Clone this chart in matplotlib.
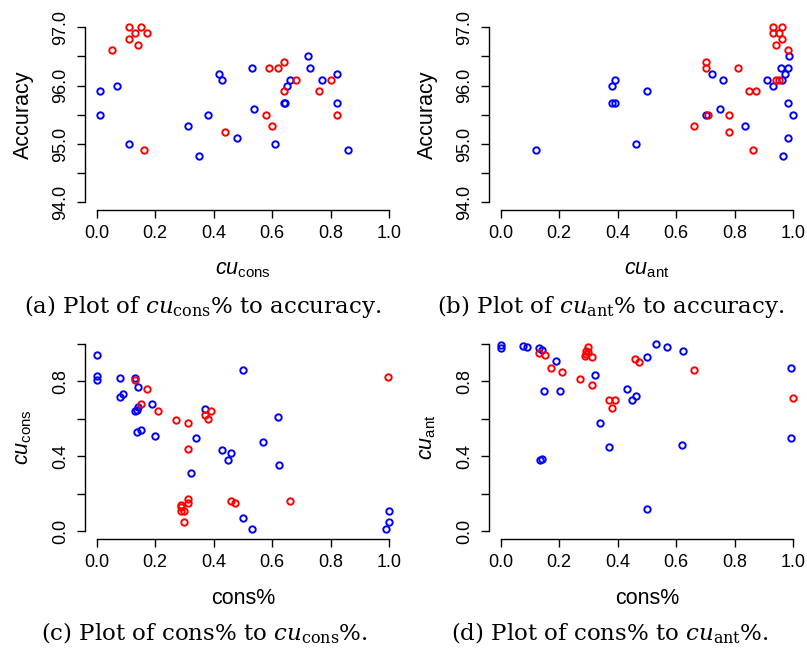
import numpy as np
import matplotlib
matplotlib.use("Agg")
import matplotlib.pyplot as plt

# (a) cu_cons vs accuracy
a_blue_x = [0.01, 0.01, 0.071, 0.11, 0.312, 0.351, 0.38, 0.419, 0.429, 0.479, 0.53, 0.538,
            0.61, 0.64, 0.642, 0.65, 0.659, 0.721, 0.73, 0.77, 0.82, 0.82, 0.86]
a_blue_y = [95.9, 95.5, 96.0, 95.0, 95.3, 94.8, 95.5, 96.2, 96.1, 95.1, 96.3, 95.6,
            95.0, 95.7, 95.7, 96.0, 96.1, 96.5, 96.3, 96.1, 96.2, 95.7, 94.9]
a_red_x = [0.11, 0.15, 0.13, 0.171, 0.11, 0.14, 0.051, 0.162, 0.44, 0.58, 0.60, 0.59,
           0.62, 0.64, 0.64, 0.68, 0.76, 0.80, 0.82]
a_red_y = [97.0, 97.0, 96.9, 96.9, 96.8, 96.7, 96.6, 94.9, 95.2, 95.5, 95.3, 96.3,
           96.3, 96.4, 95.9, 96.1, 95.9, 96.1, 95.5]

# (b) cu_ant vs accuracy
b_blue_x = [0.119, 0.38, 0.391, 0.38, 0.391, 0.501, 0.461, 0.70, 0.721, 0.761, 0.75, 0.836,
            0.91, 0.932, 0.962, 0.958, 0.981, 0.971, 0.986, 0.981, 1.0, 0.981, 0.966]
b_blue_y = [94.9, 96.0, 96.1, 95.7, 95.7, 95.9, 95.0, 95.5, 96.2, 96.1, 95.6, 95.3,
            96.1, 96.0, 96.1, 96.3, 96.3, 96.2, 96.5, 95.7, 95.5, 95.1, 94.8]
b_red_x = [0.932, 0.962, 0.932, 0.952, 0.962, 0.941, 0.981, 0.70, 0.70, 0.811, 0.941, 0.952,
           0.85, 0.871, 0.71, 0.781, 0.66, 0.781, 0.861]
b_red_y = [97.0, 97.0, 96.9, 96.9, 96.8, 96.7, 96.6, 96.4, 96.3, 96.3, 96.1, 96.1,
           95.9, 95.9, 95.5, 95.5, 95.3, 95.2, 94.9]

# (c) cons% vs cu_cons
c_blue_x = [0.0, 0.0, 0.0, 0.081, 0.080, 0.091, 0.13, 0.14, 0.13, 0.137, 0.14, 0.137, 0.151,
            0.19, 0.199, 0.341, 0.369, 0.321, 0.429, 0.46, 0.45, 0.501, 0.50, 0.531, 0.569,
            0.621, 0.623, 0.999, 1.0, 0.99]
c_blue_y = [0.94, 0.831, 0.809, 0.818, 0.719, 0.732, 0.818, 0.768, 0.64, 0.647, 0.665, 0.53, 0.539,
            0.681, 0.509, 0.50, 0.653, 0.309, 0.431, 0.419, 0.378, 0.861, 0.07, 0.009, 0.478,
            0.611, 0.352, 0.108, 0.05, 0.009]
c_red_x = [0.13, 0.171, 0.151, 0.211, 0.27, 0.311, 0.369, 0.38, 0.39, 0.311, 0.311, 0.311,
           0.288, 0.288, 0.288, 0.30, 0.30, 0.46, 0.471, 0.661, 0.997]
c_red_y = [0.805, 0.76, 0.681, 0.64, 0.591, 0.579, 0.622, 0.60, 0.64, 0.44, 0.171, 0.151,
           0.14, 0.126, 0.108, 0.108, 0.05, 0.16, 0.151, 0.16, 0.822]

# (d) cons% vs cu_ant
d_blue_x = [0.001, 0.001, 0.076, 0.09, 0.13, 0.141, 0.19, 0.323, 0.149, 0.201, 0.431, 0.449,
            0.463, 0.341, 0.371, 0.134, 0.141, 0.501, 0.531, 0.57, 0.623, 0.62, 0.501, 0.992, 0.992]
d_blue_y = [0.992, 0.98, 0.989, 0.983, 0.976, 0.967, 0.911, 0.836, 0.75, 0.75, 0.76, 0.701,
            0.721, 0.579, 0.451, 0.379, 0.387, 0.931, 0.998, 0.982, 0.964, 0.46, 0.119, 0.87, 0.50]
d_red_x = [0.13, 0.152, 0.171, 0.211, 0.27, 0.30, 0.291, 0.291, 0.30, 0.288, 0.311, 0.311,
           0.369, 0.391, 0.381, 0.46, 0.471, 0.66, 0.999]
d_red_y = [0.951, 0.94, 0.87, 0.85, 0.811, 0.983, 0.962, 0.947, 0.956, 0.938, 0.931, 0.78,
           0.701, 0.701, 0.66, 0.922, 0.901, 0.861, 0.71]

x_ticks = [0.0, 0.2, 0.4, 0.6, 0.8, 1.0]
x_ticklabels = ["0.0", "0.2", "0.4", "0.6", "0.8", "1.0"]
acc_ticks = [94.0, 94.5, 95.0, 95.5, 96.0, 96.5, 97.0]
acc_ticklabels = ["94.0", "", "95.0", "", "96.0", "", "97.0"]
cu_ticks = [0.0, 0.2, 0.4, 0.6, 0.8, 1.0]
cu_ticklabels = ["0.0", "", "0.4", "", "0.8", ""]

plt.rcParams["font.family"] = "Liberation Sans"
plt.rcParams["mathtext.fontset"] = "custom"
plt.rcParams["mathtext.rm"] = "Liberation Sans"
plt.rcParams["mathtext.it"] = "Liberation Sans:italic"

fig = plt.figure(figsize=(8.07, 6.58), dpi=100)

W, H = 807.0, 658.0
pos = {
    "a": [85 / W, (H - 209.5) / H, 316 / W, 189.5 / H],
    "b": [489 / W, (H - 209.5) / H, 316 / W, 189.5 / H],
    "c": [85 / W, (H - 538.5) / H, 316 / W, 202 / H],
    "d": [489 / W, (H - 538.5) / H, 316 / W, 202 / H],
}


def setup(ax, yticks, ylabels, xlabel, ylabel, h_px):
    lo, hi = yticks[0], yticks[-1]
    pad = 0.04 * (hi - lo)
    ax.set_xlim(-0.04, 1.04)
    ax.set_ylim(lo - pad, hi + pad)
    for s in ["top", "right"]:
        ax.spines[s].set_visible(False)
    ax.spines["left"].set_bounds(lo, hi)
    ax.spines["bottom"].set_bounds(0, 1)
    for s in ["left", "bottom"]:
        ax.spines[s].set_linewidth(1.0)
    ax.set_xticks(x_ticks, x_ticklabels)
    ax.set_yticks(yticks, ylabels)
    ax.tick_params(direction="out", length=5.8, width=1.0, pad=5.5, labelsize=13)
    ax.tick_params(axis="y", labelrotation=90)
    for t in ax.get_yticklabels():
        t.set_va("center")
    ax.set_xlabel(xlabel, fontsize=15.5)
    ax.set_ylabel(ylabel, fontsize=15.5)
    ax.xaxis.set_label_coords(0.5, -49 / h_px)
    ax.yaxis.set_label_coords(-0.162, 0.5)


def pts(ax, bx, by, rx, ry):
    ax.plot(bx, by, "o", mfc="none", mec="#0000FF", ms=4.6, mew=1.4, ls="none")
    ax.plot(rx, ry, "o", mfc="none", mec="#FF0000", ms=4.6, mew=1.4, ls="none")


ax = fig.add_axes(pos["a"])
pts(ax, a_blue_x, a_blue_y, a_red_x, a_red_y)
setup(ax, acc_ticks, acc_ticklabels, r"$cu_{\mathrm{cons}}$", "Accuracy", 189.5)

ax = fig.add_axes(pos["b"])
pts(ax, b_blue_x, b_blue_y, b_red_x, b_red_y)
setup(ax, acc_ticks, acc_ticklabels, r"$cu_{\mathrm{ant}}$", "Accuracy", 189.5)

ax = fig.add_axes(pos["c"])
pts(ax, c_blue_x, c_blue_y, c_red_x, c_red_y)
setup(ax, cu_ticks, cu_ticklabels, "cons%", r"$cu_{\mathrm{cons}}$", 202)

ax = fig.add_axes(pos["d"])
pts(ax, d_blue_x, d_blue_y, d_red_x, d_red_y)
setup(ax, cu_ticks, cu_ticklabels, "cons%", r"$cu_{\mathrm{ant}}$", 202)

# captions
cap = dict(fontfamily="DejaVu Serif", math_fontfamily="dejavuserif", fontsize=16.5,
           ha="center", va="center")
fig.text(203 / W, 1 - 307 / H, r"(a) Plot of $cu_{\mathrm{cons}}$% to accuracy.", **cap)
fig.text(611 / W, 1 - 307 / H, r"(b) Plot of $cu_{\mathrm{ant}}$% to accuracy.", **cap)
fig.text(204 / W, 1 - 633 / H, r"(c) Plot of cons% to $cu_{\mathrm{cons}}$%.", **cap)
fig.text(610 / W, 1 - 633 / H, r"(d) Plot of cons% to $cu_{\mathrm{ant}}$%.", **cap)

fig.savefig("out.png", dpi=100)
